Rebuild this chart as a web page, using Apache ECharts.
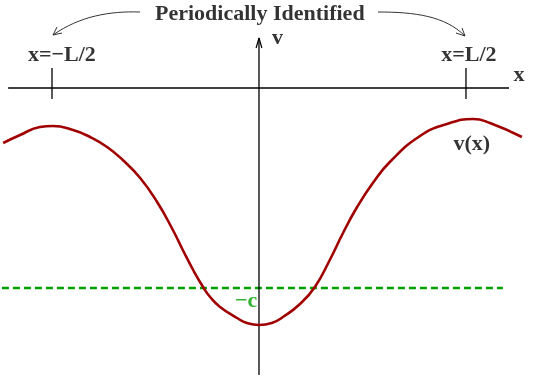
<!DOCTYPE html>
<html>
<head>
<meta charset="utf-8">
<script src="https://cdn.jsdelivr.net/npm/echarts@6/dist/echarts.min.js"></script>
<style>
  html, body { margin: 0; padding: 0; background: #fff; }
  #chart { width: 534px; height: 377px; }
</style>
</head>
<body>
<div id="chart"></div>
<script>
// x in units of L (ticks at -L/2 and L/2), v in arbitrary units, c = 2
const curveX = [-0.618, -0.577, -0.529, -0.498, -0.449, -0.408, -0.367, -0.329, -0.287, -0.246,
    -0.208, -0.184, -0.159, -0.135, -0.118, -0.094, -0.053, -0.029, 0, 0.031,
    0.058, 0.099, 0.135, 0.171, 0.203, 0.237, 0.275, 0.316, 0.389, 0.454,
    0.517, 0.558, 0.635];
const curveV = [-0.55, -0.47, -0.39, -0.38, -0.42, -0.49, -0.59, -0.72, -0.90, -1.14,
    -1.42, -1.62, -1.82, -1.99, -2.09, -2.19, -2.30, -2.35, -2.37, -2.35,
    -2.29, -2.16, -1.99, -1.72, -1.45, -1.19, -0.95, -0.74, -0.48, -0.36,
    -0.31, -0.35, -0.49];
const cValue = 2;
const dashExtent = [-0.621, 0.589];
const xAxisExtent = [-0.606, 0.604];
const vAxisExtent = [-2.87, 0.50];
const tickX = [-0.5, 0.5];
const tickLabels = ['x=\u2212L/2', 'x=L/2'];

const chart = echarts.init(document.getElementById('chart'));
const serif = '"Liberation Serif", "DejaVu Serif", serif';

const tickSeries = tickX.map(function (x) {
    return {
        type: 'line',
        data: [[x, 0.2], [x, -0.11]],
        symbol: 'none',
        lineStyle: { color: '#000', width: 1.3 },
        silent: true
    };
});

// text labels, placed in data coordinates
const labelData = [
    [0.002, 0.74, 'Periodically Identified'],
    [-0.476, 0.33, tickLabels[0]],
    [0.507, 0.33, tickLabels[1]],
    [0.628, 0.13, 'x'],
    [0.045, 0.50, 'v'],
    [0.514, -0.56, 'v(x)']
];

chart.setOption({
    animation: false,
    grid: { left: 0, right: 0, top: 0, bottom: 0 },
    xAxis: { type: 'value', min: -0.6256, max: 0.6643, show: false },
    yAxis: { type: 'value', min: -2.89, max: 0.88, show: false },
    series: [
        {
            type: 'line',
            data: dashExtent.map(function (x) { return [x, -cValue]; }),
            symbol: 'none',
            lineStyle: { color: '#00a000', width: 2.6, type: [7, 4] },
            silent: true
        },
        {
            type: 'line',
            data: xAxisExtent.map(function (x) { return [x, 0]; }),
            symbol: 'none',
            lineStyle: { color: '#000', width: 1.3 },
            silent: true
        },
        {
            type: 'line',
            data: vAxisExtent.map(function (v) { return [0, v]; }),
            symbol: 'none',
            lineStyle: { color: '#000', width: 1.3 },
            silent: true
        },
        {
            // open arrow head on the v axis
            type: 'line',
            data: [[-0.007, vAxisExtent[1] - 0.1], [0, vAxisExtent[1]], [0.007, vAxisExtent[1] - 0.1]],
            symbol: 'none',
            lineStyle: { color: '#000', width: 1.2 },
            silent: true
        },
        ...tickSeries,
        {
            type: 'line',
            data: curveX.map(function (x, i) { return [x, curveV[i]]; }),
            smooth: 0.5,
            symbol: 'none',
            lineStyle: { color: '#a00000', width: 2.6 },
            silent: true
        },
        {
            type: 'scatter',
            data: labelData,
            symbolSize: 0,
            silent: true,
            label: {
                show: true,
                position: 'inside',
                formatter: function (p) { return p.value[2]; },
                fontFamily: serif,
                fontWeight: 'bold',
                fontSize: 22,
                color: '#000'
            }
        },
        {
            type: 'scatter',
            data: [[-0.031, -2.13, '\u2212c']],
            symbolSize: 0,
            silent: true,
            label: {
                show: true,
                position: 'inside',
                formatter: function (p) { return p.value[2]; },
                fontFamily: serif,
                fontWeight: 'bold',
                fontSize: 22,
                color: '#00a000'
            }
        }
    ],
    graphic: [
        {
            type: 'bezierCurve',
            shape: { x1: 140, y1: 12, cpx1: 110, cpy1: 11, cpx2: 80, cpy2: 16, x2: 53, y2: 35 },
            style: { stroke: '#333', lineWidth: 1, fill: null }
        },
        {
            type: 'polyline',
            shape: { points: [[57, 27], [53, 35], [62, 33]] },
            style: { stroke: '#333', lineWidth: 1, fill: null }
        },
        {
            type: 'bezierCurve',
            shape: { x1: 378, y1: 12, cpx1: 415, cpy1: 12, cpx2: 445, cpy2: 16, x2: 465, y2: 36 },
            style: { stroke: '#333', lineWidth: 1, fill: null }
        },
        {
            type: 'polyline',
            shape: { points: [[456, 33], [465, 36], [462, 28]] },
            style: { stroke: '#333', lineWidth: 1, fill: null }
        }
    ]
});

window.addEventListener('resize', function () {
    chart.resize();
});
</script>
</body>
</html>
